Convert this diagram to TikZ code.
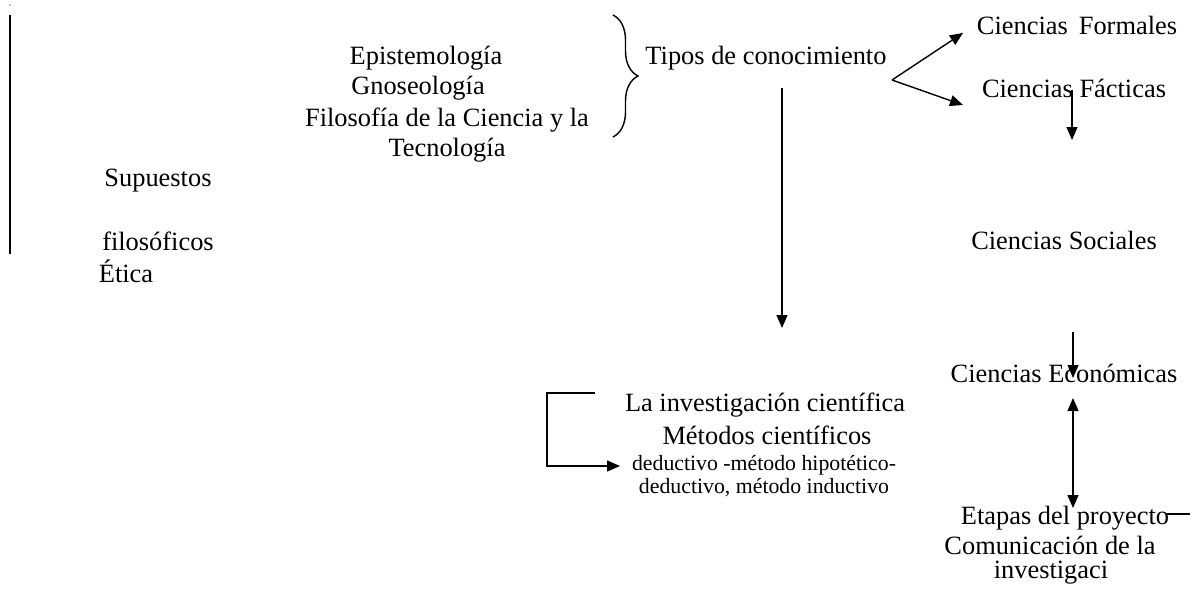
\documentclass[tikz,border=0pt]{standalone}
\usepackage{fontspec}
\setmainfont{Liberation Serif}
\usetikzlibrary{arrows.meta,positioning,decorations.pathreplacing}
\tikzset{
txtnode/.style={
  inner sep=0pt,
  align=center,
  font=\fontsize{26.4}{30}\selectfont,
  }
}
\tikzset{
smalltxt/.style={
  inner sep=0pt,
  align=center,
  font=\fontsize{21.8}{22.5}\selectfont,
  }
}
\tikzset{
myline/.style={
  line width=1.4pt,
  -{Triangle[length=13pt,width=11pt]}
  }
}
\tikzset{
plainline/.style={
  line width=1.4pt
  }
}

\begin{document}
\begin{tikzpicture}[x=1pt,y=-1pt]
    \useasboundingbox (0,0) rectangle (1197,594);
    \fill (10,5) circle (0.7);

    % left part
    \coordinate (bar_top) at (10,15);
    \coordinate (bar_bot) at (10,254);
    \node[txtnode] (supuestos) at (158,181) {Supuestos};
    \node[txtnode] (filosof) at (158,241) {filosóficos};
    \node[txtnode] (etica) at (126,271) {Ética};

    % philosophy part
    \node[txtnode] (epis) at (426,58) {Epistemología};
    \node[txtnode] (gnos) at (418,88) {Gnoseología};
    \node[txtnode] (filocien) at (447,135) {Filosofía de la Ciencia y la\\Tecnología};
    \coordinate (br_top) at (613,15);
    \coordinate (br_bot) at (613,137);
    \node[txtnode] (tipos) at (766,58) {Tipos de conocimiento};

    % sciences part
    \node[txtnode] (formales) at (1077,25) {Ciencias\, Formales};
    \node[txtnode] (facticas) at (1074,88) {Ciencias Fácticas};
    \node[txtnode] (sociales) at (1064,240) {Ciencias Sociales};
    \node[txtnode] (economicas) at (1064,373) {Ciencias Económicas};
    \node[txtnode] (etapas) at (1065,518) {Etapas del proyecto};
    \node[txtnode] (comunic) at (1050,545) {Comunicación de la};
    \node[txtnode] (investigaci) at (1051,573) {investigaci};

    % research part
    \node[txtnode] (investig) at (765,405) {La investigación científica};
    \node[txtnode] (metodos) at (767,435) {Métodos científicos};
    \node[smalltxt] (deduct) at (764,476) {deductivo -método hipotético-\\deductivo, método inductivo};

    % free ends
    \coordinate (fork) at (892,80);
    \coordinate (form_tip) at (963,33);
    \coordinate (fact_tip) at (963,105);
    \coordinate (fact_start) at (1072,90);
    \coordinate (fact_end) at (1072,140);
    \coordinate (main_start) at (782,88);
    \coordinate (main_end) at (782,328);
    \coordinate (eco_start) at (1073,332);
    \coordinate (eco_end) at (1073,378);
    \coordinate (dbl_top) at (1073,398);
    \coordinate (dbl_bot) at (1073,508);
    \coordinate (etap_a) at (1167,514);
    \coordinate (etap_b) at (1190,514);
    \coordinate (brk_a) at (595,393);
    \coordinate (brk_b) at (547,466);
    \coordinate (brk_c) at (620,466);

    % edges
    \draw[plainline] (bar_top) -- (bar_bot);
    \draw[plainline, decorate, decoration={brace, amplitude=25pt}] (br_top) -- (br_bot);
    \draw[myline] (fork) -- (form_tip);
    \draw[myline] (fork) -- (fact_tip);
    \draw[myline] (fact_start) -- (fact_end);
    \draw[myline] (main_start) -- (main_end);
    \draw[myline] (eco_start) -- (eco_end);
    \draw[myline, {Triangle[length=13pt,width=11pt]}-{Triangle[length=13pt,width=11pt]}] (dbl_top) -- (dbl_bot);
    \draw[plainline] (etap_a) -- (etap_b);
    \draw[myline] (brk_a) -| (brk_b) -- (brk_c);
\end{tikzpicture}
\end{document}
